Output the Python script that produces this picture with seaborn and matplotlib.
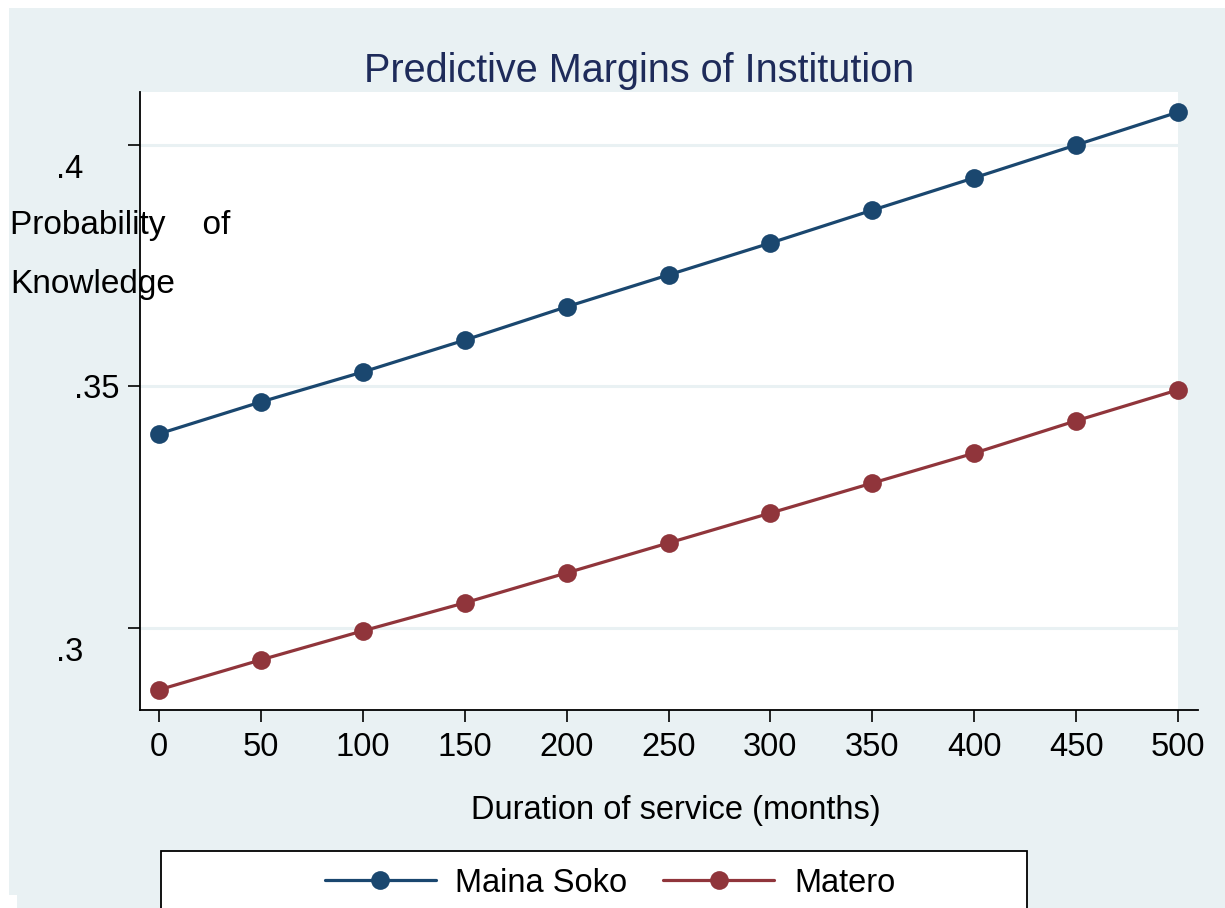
import matplotlib
matplotlib.use("Agg")
import matplotlib.pyplot as plt
import matplotlib.transforms as mtransforms
from matplotlib.patches import Rectangle
import pandas as pd
import seaborn as sns

months = [0, 50, 100, 150, 200, 250, 300, 350, 400, 450, 500]
maina_soko = [0.3402, 0.3468, 0.3530, 0.3596, 0.3665, 0.3731, 0.3797, 0.3865, 0.3932, 0.4000, 0.4068]
matero = [0.2872, 0.2934, 0.2994, 0.3052, 0.3114, 0.3176, 0.3238, 0.3300, 0.3362, 0.3429, 0.3493]
series_names = ["Maina Soko", "Matero"]
y_ticks = [0.3, 0.35, 0.4]
y_tick_labels = [".3", ".35", ".4"]

BG = "#E9F1F3"
NAVY = "#1A476F"
MAROON = "#90353B"

df = pd.DataFrame({
    "months": months * 2,
    "prob": maina_soko + matero,
    "institution": [series_names[0]] * len(months) + [series_names[1]] * len(months),
})

sns.set_theme(style="ticks")
plt.rcParams["font.family"] = ["Liberation Sans", "DejaVu Sans"]
plt.rcParams["text.color"] = "black"

W, H = 1225, 908
fig = plt.figure(figsize=(W / 100, H / 100), dpi=100)
fig.patch.set_facecolor("white")
# stata graph region
fig.patches.append(Rectangle((9 / W, 0), 1 - 9 / W, (H - 8) / H, transform=fig.transFigure,
                             facecolor=BG, edgecolor="none", zorder=-10))
fig.patches.append(Rectangle((0, 0), 17 / W, 13 / H, transform=fig.transFigure,
                             facecolor="white", edgecolor="none", zorder=-9))

ax = fig.add_axes([140 / W, 1 - 710 / H, (1198 - 140) / W, (710 - 92) / H])
ax.set_facecolor("none")
ax.set_xlim(-9.32, 509.8)
ax.set_ylim(0.28302, 0.41097)
ax.axvspan(-9.32, 500, color="white", zorder=0, lw=0)

for y in y_ticks:
    ax.axhline(y, color=BG, lw=2.2, zorder=0.5)

sns.lineplot(data=df, x="months", y="prob", hue="institution", palette=[NAVY, MAROON],
             marker="o", markersize=13.5, markeredgewidth=0, linewidth=2.3, ax=ax, zorder=3)

handles, labels = ax.get_legend_handles_labels()
ax.get_legend().remove()
for h in handles:
    h.set_markersize(13.5)
    h.set_markeredgewidth(0)
    h.set_linewidth(2.3)

for s in ["top", "right"]:
    ax.spines[s].set_visible(False)
for s in ["left", "bottom"]:
    ax.spines[s].set_color("black")
    ax.spines[s].set_linewidth(1.3)

ax.set_xticks(months)
ax.set_xticklabels([str(m) for m in months])
ax.set_yticks(y_ticks)
ax.set_yticklabels(y_tick_labels)
ax.tick_params(axis="both", length=8.6, width=1.2, color="black", labelsize=23.5, labelcolor="black")
ax.tick_params(axis="x", pad=7)
ax.tick_params(axis="y", pad=6)

# odd stata label placement for .3 and .4
for lab in ax.get_yticklabels():
    if lab.get_text() in (".3", ".4"):
        off = mtransforms.ScaledTranslation(-36 / 100, -21 / 100, fig.dpi_scale_trans)
        lab.set_transform(lab.get_transform() + off)

ax.set_title("Predictive Margins of Institution", fontsize=28.5, color="#1E2B5A",
             x=(639 - 140) / 1058, pad=7)

ax.set_xlabel("Duration of service (months)", fontsize=23.5, color="black", va="center")
ax.xaxis.set_label_coords((676 - 140) / 1058, -100 / 618)

ax.set_ylabel("Probability    of\nKnowledge", fontsize=24, color="black",
              rotation=0, ha="left", va="center", linespacing=2.15)
ax.yaxis.set_label_coords(10 / W, 1 - 255 / H, transform=fig.transFigure)

# legend box (cut off at bottom like the original)
fig.patches.append(Rectangle((161 / W, -0.05), (1027 - 161) / W, 0.05 + 1 - 851 / H,
                             transform=fig.transFigure, facecolor="white",
                             edgecolor="black", lw=1.3, zorder=1))
leg = fig.legend(handles, labels, loc="center", bbox_to_anchor=(610 / W, 1 - 883 / H),
                 ncol=2, frameon=False, fontsize=23.5, handlelength=3.4,
                 handletextpad=0.6, columnspacing=1.1)
for t in leg.get_texts():
    t.set_color("black")
leg.set_zorder(5)

fig.savefig("out.png", dpi=100, facecolor=fig.get_facecolor())
